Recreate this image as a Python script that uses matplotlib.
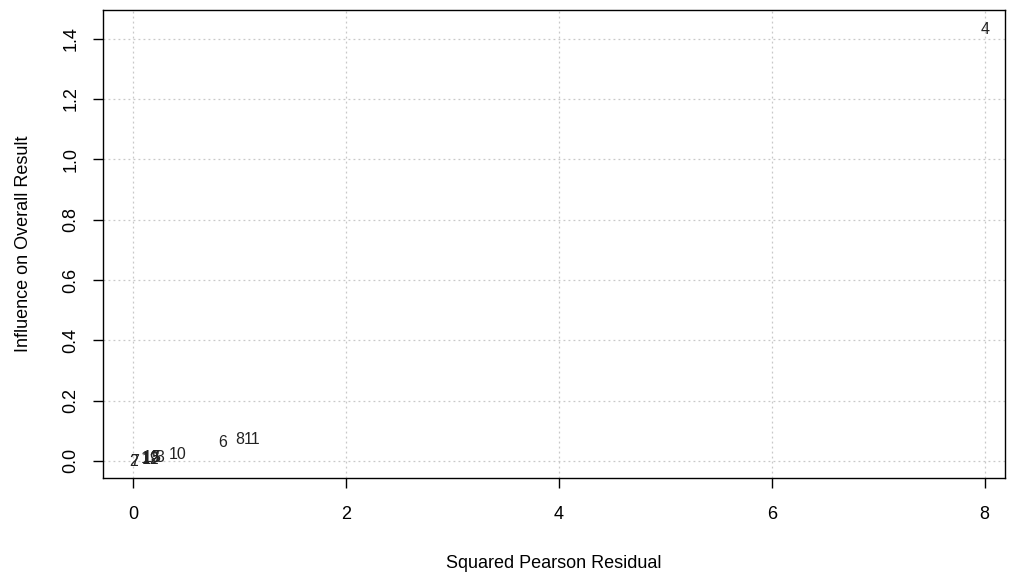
import matplotlib.pyplot as plt

plt.rcParams['font.family'] = ['Liberation Sans', 'DejaVu Sans']

labels = ["1", "2", "3", "4", "5", "6", "7", "8", "9", "10", "11", "12", "13"]
sq_resid = [0.12, 0.01, 0.25, 8.0, 0.22, 0.84, 0.02, 1.0, 0.20, 0.42, 1.12, 0.17, 0.18]
influence = [0.008, -0.003, 0.010, 1.43, 0.010, 0.060, -0.002, 0.070, 0.008, 0.020, 0.070, 0.006, 0.010]

fig = plt.figure(figsize=(10.1, 5.75), dpi=100)
ax = fig.add_axes([0.102, 0.169, 0.893, 0.814])

for lab, x, y in zip(labels, sq_resid, influence):
    ax.text(x, y, lab, ha="center", va="center", fontsize=11.5, color="#222222")

ax.set_xlim(-0.28, 8.19)
ax.set_ylim(-0.056, 1.496)
ax.set_xticks([0, 2, 4, 6, 8])
ax.set_yticks([0.0, 0.2, 0.4, 0.6, 0.8, 1.0, 1.2, 1.4])
ax.set_yticklabels(["0.0", "0.2", "0.4", "0.6", "0.8", "1.0", "1.2", "1.4"], rotation=90, va="center")
ax.grid(True, linestyle=(0, (1.5, 2.5)), color="#c8c8c8", linewidth=0.9)
ax.set_axisbelow(True)

ax.tick_params(labelsize=13, length=7, width=1, color="black")
ax.tick_params(axis="x", pad=13)
ax.tick_params(axis="y", pad=10)
for s in ax.spines.values():
    s.set_linewidth(1)
    s.set_color("black")

ax.set_xlabel("Squared Pearson Residual", fontsize=13, labelpad=23)
ax.set_ylabel("Influence on Overall Result", fontsize=13, labelpad=22)

fig.savefig("out.png", dpi=100, facecolor="white")
